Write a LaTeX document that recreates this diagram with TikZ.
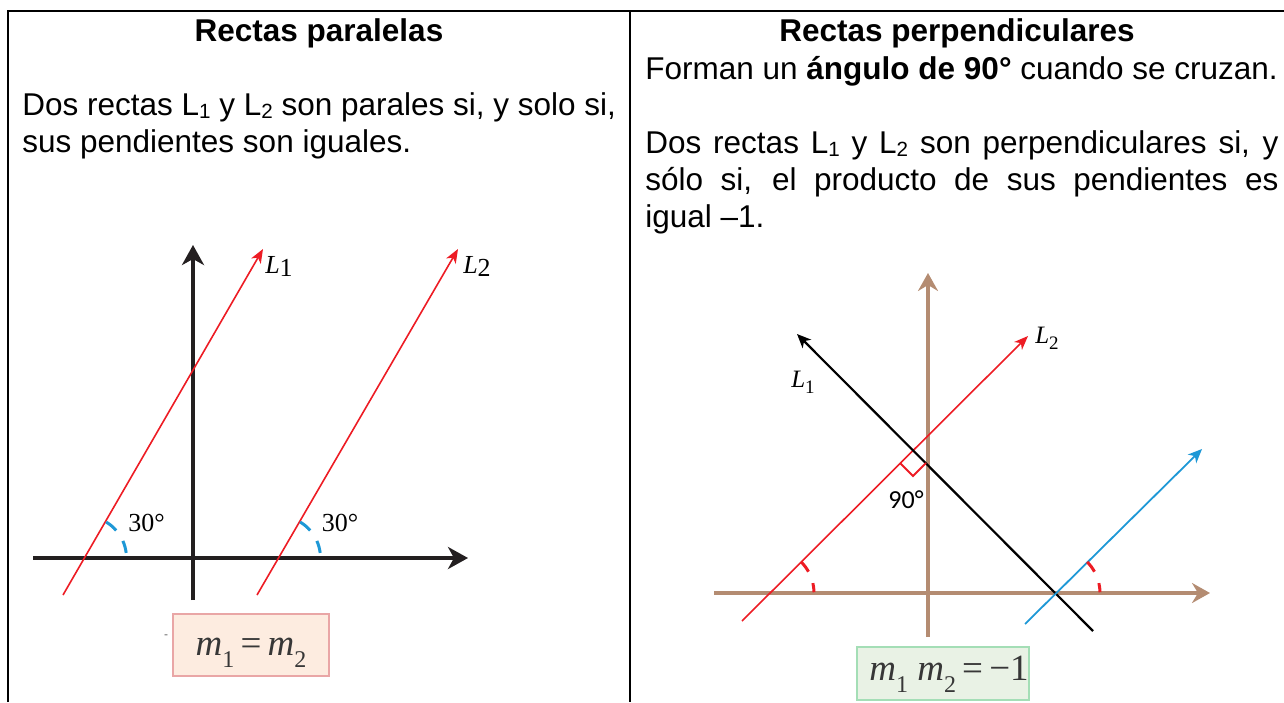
\documentclass[tikz,border=0pt]{standalone}
\usepackage{fontspec}
\setmainfont{Liberation Sans}
\newfontfamily\serifont{Liberation Serif}
\newfontfamily\calfont{Carlito}
\usepackage{xcolor}
\usetikzlibrary{arrows.meta}

\definecolor{lred}{RGB}{237,28,36}
\definecolor{lblue}{RGB}{30,152,214}
\definecolor{axbrown}{RGB}{180,140,114}
\definecolor{axblack}{RGB}{35,31,32}
\definecolor{boxpink}{RGB}{253,236,224}
\definecolor{edgepink}{RGB}{233,166,166}
\definecolor{boxgreen}{RGB}{233,242,229}
\definecolor{edgegreen}{RGB}{164,222,182}
\definecolor{eqgray}{RGB}{55,55,55}

\newcommand\bodyfont{\fontsize{15.75}{18.5}\selectfont}
\newcommand\lsub[1]{\raisebox{-1.6pt}{\fontsize{10.3}{10}\selectfont #1}}
\newcommand\Lbig[1]{{\itshape L}\raisebox{-1.5pt}{#1}}
\newcommand\Lsmall[1]{{\itshape L}\raisebox{-3pt}{\fontsize{9.5}{9.5}\selectfont #1}}
\newcommand\msub[1]{{\itshape m}\raisebox{-6pt}{\fontsize{12}{12}\selectfont #1}}

\begin{document}
\begin{tikzpicture}[x=0.5pt, y=-0.5pt,
    tabline/.style  ={line width=1.3pt, draw=black},
    head/.style     ={font=\bodyfont\bfseries, anchor=base, inner sep=0pt},
    txt/.style      ={font=\bodyfont, anchor=base west, inner sep=0pt},
    axisL/.style    ={line width=2pt, draw=axblack, -{Stealth[length=10pt, width=11pt, inset=3pt]}},
    axisR/.style    ={line width=2pt, draw=axbrown, -{Stealth[length=9pt, width=10pt, inset=3pt]}},
    redline/.style  ={line width=0.8pt, draw=lred, -{Stealth[length=7pt, width=5.5pt, inset=2pt]}},
    blkline/.style  ={line width=1.1pt, draw=black, -{Stealth[length=7pt, width=6pt, inset=2pt]}},
    blueline/.style ={line width=0.9pt, draw=lblue, -{Stealth[length=7pt, width=6pt, inset=2pt]}},
    bluemark/.style ={line width=1.5pt, draw=lblue},
    redmark/.style  ={line width=1.5pt, draw=lred},
    lab/.style      ={font=\serifont\fontsize{13}{13}\selectfont, inner sep=0pt},
    eqbox/.style    ={font=\serifont\fontsize{18.5}{18.5}\selectfont, text=eqgray, line width=1.3pt,
                      inner sep=0pt, anchor=base}
  ]
    \useasboundingbox (0,0) rectangle (1284,702);

    % --- table lines ---
    \draw[tabline] (8,702) -- (8,11) -- (1284,11);
    \draw[tabline] (630,11) -- (630,702);

    % --- texts, left cell ---
    \node[head] (t1) at (319,41) {Rectas paralelas};
    \node[txt] (p1) at (22,115) {Dos rectas L\lsub{1} y L\lsub{2} son parales si, y solo si,};
    \node[txt] (p2) at (22,152) {sus pendientes son iguales.};

    % --- texts, right cell ---
    \node[head] (t2) at (957,41) {Rectas perpendiculares};
    \node[txt] (q1) at (645,79) {Forman un \textbf{ángulo de 90°} cuando se cruzan.};
    \node[txt] (q2) at (645,153) {\makebox[316.5pt][s]{Dos rectas L\lsub{1} y L\lsub{2} son perpendiculares si, y}};
    \node[txt] (q3) at (645,190) {\makebox[316.5pt][s]{sólo si, el producto de sus pendientes es}};
    \node[txt] (q4) at (645,227) {igual –1.};

    % --- parallel lines ---
    \coordinate (lxa) at (33,558);  \coordinate (lxb) at (468,558);
    \coordinate (lya) at (193,600); \coordinate (lyb) at (193,245);
    \draw[axisL] (lxa) -- (lxb);
    \draw[axisL] (lya) -- (lyb);

    \coordinate (a1) at (63,595);  \coordinate (b1) at (263,249);
    \coordinate (a2) at (257,595); \coordinate (b2) at (458,249);
    \draw[redline] (a1) -- (b1);
    \draw[redline] (a2) -- (b2);
    \node[lab] (l1) at (279,266) {\Lbig{1}};
    \node[lab] (l2) at (477,266) {\Lbig{2}};

    % 30 degree marks
    \foreach \cx in {84.5,278.5} {
      \draw[bluemark] (\cx,558) ++(-7:42) arc[start angle=-7, end angle=-24, radius=42];
      \draw[bluemark] (\cx,558) ++(-41:42) arc[start angle=-41, end angle=-59, radius=42];
    }
    \node[lab] (g1) at (146.5,522.5) {30°};
    \node[lab] (g2) at (340,522.5) {30°};

    \node[font=\fontsize{6}{6}\selectfont, text=black!60, inner sep=0pt] (dash) at (166,637) {-};
    \node[eqbox, fill=boxpink, draw=edgepink, minimum width=78pt,
          text height=20.5pt, text depth=10.5pt] (eq1) at (251,655) {\msub{1}\,=\,\msub{2}};

    % --- perpendicular lines ---
    \coordinate (rxa) at (714,593); \coordinate (rxb) at (1210,593);
    \coordinate (rya) at (928,637); \coordinate (ryb) at (928,273);
    \draw[axisR] (rxa) -- (rxb);
    \draw[axisR] (rya) -- (ryb);

    \coordinate (c2) at (742,621);  \coordinate (d2) at (1028,336);
    \coordinate (c1) at (1093,631); \coordinate (d1) at (797,334);
    \coordinate (c3) at (1025,624); \coordinate (d3) at (1202,449);
    \draw[redline] (c2) -- (d2);
    \draw[blkline] (c1) -- (d1);
    \draw[blueline] (c3) -- (d3);
    \node[lab, font=\serifont\fontsize{12.5}{12.5}\selectfont] (m1) at (803,382) {\Lsmall{1}};
    \node[lab, font=\serifont\fontsize{12.5}{12.5}\selectfont] (m2) at (1047,338) {\Lsmall{2}};

    % right angle
    \draw[line width=1pt, draw=lred] (900,463) -- (913,476) -- (926,463);
    \node[font=\calfont\fontsize{13}{13}\selectfont, inner sep=0pt] (rt) at (906,500) {90°};

    % equal angle marks
    \foreach \cx in {770,1056} {
      \draw[redmark] (\cx,593) ++(-1:44) arc[start angle=-1, end angle=-13, radius=44];
      \draw[redmark] (\cx,593) ++(-29:44) arc[start angle=-29, end angle=-45, radius=44];
    }

    \node[eqbox, fill=boxgreen, draw=edgegreen, minimum width=86pt,
          text height=16.5pt, text depth=10pt] (eq2) at (943,680) {\hspace{6pt}\msub{1}\ \msub{2}\,=\,−1};
\end{tikzpicture}
\end{document}
